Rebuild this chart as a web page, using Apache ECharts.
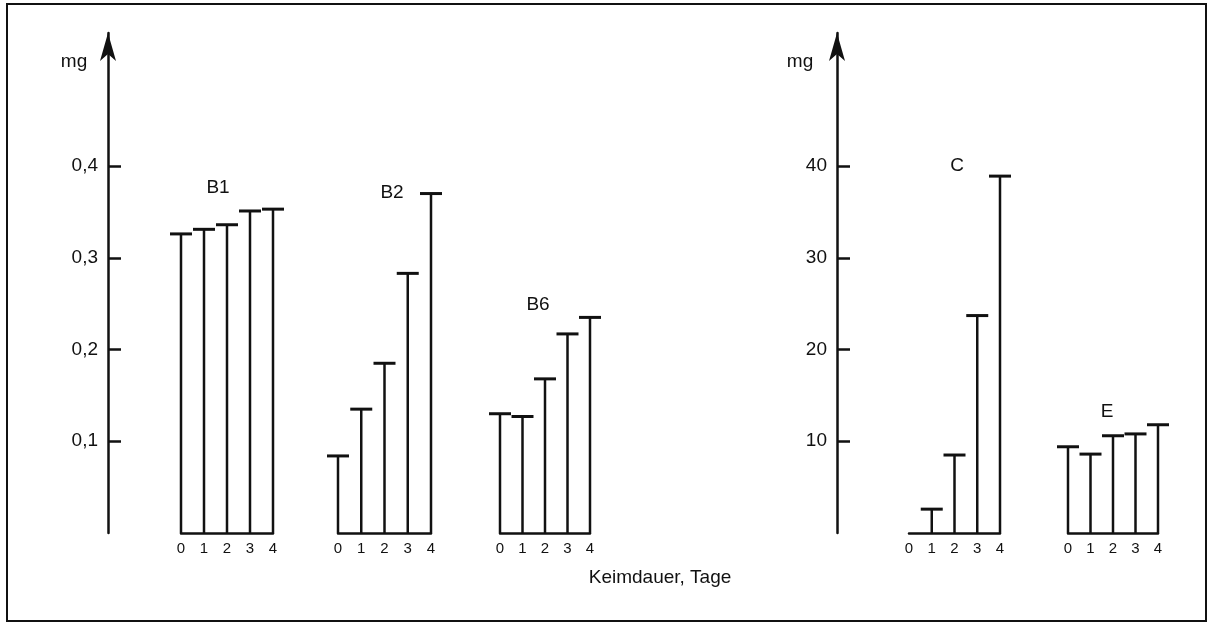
<!DOCTYPE html>
<html>
<head>
<meta charset="utf-8">
<script src="https://cdn.jsdelivr.net/npm/echarts@6/dist/echarts.min.js"></script>
<style>
  html, body { margin: 0; padding: 0; background: #fff; }
  #chart { width: 1208px; height: 623px; }
</style>
</head>
<body>
<div id="chart"></div>
<script>
// Keimdauer in Tagen
const days = ['0', '1', '2', '3', '4'];
const groupNames = ['B1', 'B2', 'B6', 'C', 'E'];
// mg, linke Skala
const valuesB1 = [0.326, 0.331, 0.336, 0.351, 0.353];
const valuesB2 = [0.084, 0.135, 0.185, 0.283, 0.370];
const valuesB6 = [0.130, 0.127, 0.168, 0.217, 0.235];
// mg, rechte Skala
const valuesC = [0, 2.6, 8.5, 23.7, 38.9];
const valuesE = [9.4, 8.6, 10.6, 10.8, 11.8];
const leftTicks = [0.1, 0.2, 0.3, 0.4];
const rightTicks = [10, 20, 30, 40];

const FONT = '"Liberation Sans", Arial, sans-serif';
const INK = '#111';
const TOP = 33, BOTTOM = 90;
const LEFT_MAX = 0.545, RIGHT_MAX = 54.5;

const chart = echarts.init(document.getElementById('chart'));

// Gruppenlage: x von Tag 0 bis Tag 4, welche Skala
const groupLayout = [
    { left: 181, right: 273, scale: 'left', data: valuesB1 },
    { left: 338, right: 431, scale: 'left', data: valuesB2 },
    { left: 500, right: 590, scale: 'left', data: valuesB6 },
    { left: 909, right: 1000, scale: 'right', data: valuesC },
    { left: 1068, right: 1158, scale: 'right', data: valuesE }
];
const labelPos = [[218, 188], [392, 193], [538, 305], [957, 166], [1107, 412]];

const fmt = v => String(v).replace('.', ',');

function valueAxis(gridIndex, max, ticks) {
    return {
        type: 'value',
        gridIndex: gridIndex,
        min: 0,
        max: max,
        splitLine: { show: false },
        axisLine: {
            show: true,
            symbol: ['none', 'arrow'],
            symbolSize: [12, 28],
            lineStyle: { color: INK, width: 2.5 }
        },
        axisTick: {
            show: true,
            inside: true,
            length: 13,
            customValues: ticks,
            lineStyle: { color: INK, width: 2.5 }
        },
        axisLabel: {
            show: true,
            customValues: ticks,
            formatter: fmt,
            margin: 10,
            color: INK,
            fontSize: 19,
            fontFamily: FONT
        }
    };
}

const grids = [
    { left: 108, width: 1, top: TOP, bottom: BOTTOM },
    { left: 837, width: 1, top: TOP, bottom: BOTTOM }
];
const xAxes = [
    { type: 'category', gridIndex: 0, show: false, data: days },
    { type: 'category', gridIndex: 1, show: false, data: days }
];
const yAxes = [
    valueAxis(0, LEFT_MAX, leftTicks),
    valueAxis(1, RIGHT_MAX, rightTicks)
];
const series = [];

groupLayout.forEach((g, i) => {
    const gi = i + 2;
    grids.push({ left: g.left, width: g.right - g.left, top: TOP, bottom: BOTTOM });
    xAxes.push({
        type: 'category',
        gridIndex: gi,
        data: days,
        boundaryGap: false,
        axisLine: { lineStyle: { color: INK, width: 2.5 } },
        axisTick: { show: false },
        axisLabel: { color: INK, fontSize: 15, fontFamily: FONT, margin: 8 }
    });
    yAxes.push({
        type: 'value',
        gridIndex: gi,
        min: 0,
        max: g.scale === 'left' ? LEFT_MAX : RIGHT_MAX,
        show: false
    });
    series.push({
        type: 'bar',
        name: groupNames[i],
        xAxisIndex: gi,
        yAxisIndex: gi,
        data: g.data,
        barWidth: 2.5,
        itemStyle: { color: INK },
        silent: true
    });
    // Querstrich oben auf jedem Balken
    series.push({
        type: 'scatter',
        name: groupNames[i] + ' cap',
        xAxisIndex: gi,
        yAxisIndex: gi,
        data: g.data.map(v => (v > 0 ? v : '-')),
        symbol: 'rect',
        symbolSize: [22, 3],
        itemStyle: { color: INK, opacity: 1 },
        silent: true
    });
});

const textStyle = { fill: INK, fontSize: 19, fontFamily: FONT, align: 'center', verticalAlign: 'middle' };

const graphics = [
    {
        type: 'rect',
        shape: { x: 7, y: 4, width: 1199, height: 617 },
        style: { fill: 'none', stroke: INK, lineWidth: 2 },
        silent: true
    },
    { type: 'text', x: 74, y: 62, style: Object.assign({ text: 'mg' }, textStyle) },
    { type: 'text', x: 800, y: 62, style: Object.assign({ text: 'mg' }, textStyle) },
    { type: 'text', x: 660, y: 578, style: Object.assign({ text: 'Keimdauer, Tage' }, textStyle) }
];
groupNames.forEach((name, i) => {
    graphics.push({
        type: 'text',
        x: labelPos[i][0],
        y: labelPos[i][1],
        style: Object.assign({ text: name }, textStyle)
    });
});

chart.setOption({
    backgroundColor: '#fff',
    animation: false,
    grid: grids,
    xAxis: xAxes,
    yAxis: yAxes,
    series: series,
    graphic: graphics
});

window.addEventListener('resize', () => chart.resize());
</script>
</body>
</html>
